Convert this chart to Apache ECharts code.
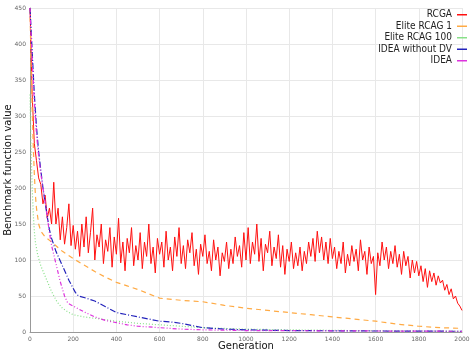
<!DOCTYPE html>
<html><head><meta charset="utf-8">
<script src="https://cdn.jsdelivr.net/npm/echarts@6/dist/echarts.min.js"></script>
<style>html,body{margin:0;padding:0;background:#fff}#c{width:472px;height:356px}</style>
</head><body><div id="c"></div>
<script>
// RCGA sampled every 10 generations
const rcgaStep = 10;
const rcgaValues = [
450,330,262,238,214,205,178,190,158,172,150,
208,150,172,128,160,122,145,178,120,148,
115,140,105,150,118,160,110,138,172,100,
135,118,150,95,128,112,145,90,132,108,
158,96,125,85,130,110,145,92,120,100,
138,88,125,105,150,95,118,82,130,108,
125,90,140,100,118,85,132,105,145,95,
120,88,128,110,138,92,115,80,122,105,
135,95,112,85,128,100,118,78,110,98,
125,88,115,95,132,105,120,90,138,100,
145,95,125,108,150,98,130,85,122,110,
140,92,118,102,135,90,120,80,115,98,
125,88,110,92,118,85,112,95,125,105,
130,98,140,110,132,100,125,95,130,102,
118,88,112,95,125,82,108,92,120,98,
115,85,128,100,112,80,118,95,105,52,
110,92,125,100,118,88,112,95,120,90,
108,80,112,92,105,75,100,82,98,78,
92,70,88,62,85,70,82,65,78,68,
72,58,66,52,60,46,50,40,36,30
];
const elite1Gens   = [0,5,10,15,20,25,30,40,50,70,100,150,200,250,300,350,400,450,500,550,600,700,800,900,1000,1100,1200,1300,1400,1500,1600,1700,1800,1900,2000];
const elite1Values = [450,370,310,260,220,190,172,150,140,132,125,112,102,93,84,76,69,64,59,53,47,44,42,37,33,30,27,24,21,18,15,11,8,6,5];
const elite100Gens   = [0,3,6,10,15,20,25,35,50,75,100,125,150,175,200,250,300,350,400,500,600,700,800,1000,1200,1500,2000];
const elite100Values = [330,280,240,200,165,140,125,108,92,74,56,42,33,28,24,21,19,17,15,12,10,8,6,4,3,2,1];
const ideaNoDvGens   = [0,10,20,30,40,50,60,70,80,90,100,120,150,180,210,225,260,300,350,400,450,500,550,600,650,700,750,800,850,900,1000,1200,1500,2000];
const ideaNoDvValues = [450,390,330,285,250,225,200,180,160,142,130,112,92,72,55,50,47,43,35,27,24,21,18,15,14,12,9,6,5,4,3,2,1.5,1];
const ideaGens   = [0,10,20,30,40,50,60,70,80,90,100,120,140,160,175,200,250,300,350,400,450,500,600,700,800,1000,1500,2000];
const ideaValues = [450,380,320,275,245,220,200,180,160,138,120,95,70,50,40,36,28,21,16,13,10,8,6,4,3,2,1.5,1];

const seriesNames = ['RCGA','Elite RCAG 1','Elite RCAG 100','IDEA without DV','IDEA'];
const xTicks = [0,200,400,600,800,1000,1200,1400,1600,1800,2000];

const pair = (g, v) => g.map((x, i) => [x, v[i]]);
const rcgaData = rcgaValues.map((v, i) => [i * rcgaStep, v]);

const chart = echarts.init(document.getElementById('c'), null, {renderer: 'canvas'});
const mk = (name, data, color, type, width) => ({
  name, type: 'line', data, showSymbol: false, symbol: 'none',
  lineStyle: {color, width, type}, itemStyle: {color}, animation: false
});
chart.setOption({
  animation: false,
  textStyle: {fontFamily: 'DejaVu Sans'},
  grid: {left: 30, right: 10, top: 8, bottom: 24, containLabel: false, outerBoundsMode: 'none'},
  legend: {
    orient: 'vertical', right: 5, top: 9, align: 'right', itemGap: 0,
    itemWidth: 10, itemHeight: 1.5, icon: 'rect', padding: 0,
    textStyle: {fontSize: 10, lineHeight: 11.5, color: '#222', fontFamily: 'DejaVu Sans Condensed', padding: [0, 0, 0, 0]},
    data: seriesNames
  },
  xAxis: {
    type: 'value', min: 0, max: 2000, interval: 200,
    name: 'Generation', nameLocation: 'middle', nameGap: 9, nameMoveOverlap: false,
    nameTextStyle: {fontSize: 10, color: '#111'},
    axisLine: {lineStyle: {color: '#999'}}, axisTick: {show: false},
    axisLabel: {fontSize: 6, color: '#666', margin: 4, formatter: v => xTicks.includes(v) ? String(v) : ''},
    splitLine: {lineStyle: {color: '#e8e8e8', width: 1}}
  },
  yAxis: {
    type: 'value', min: 0, max: 450, interval: 50,
    name: 'Benchmark function value', nameLocation: 'middle', nameGap: 17, nameRotate: 90, nameMoveOverlap: false,
    nameTextStyle: {fontSize: 10, color: '#111'},
    axisLine: {show: true, lineStyle: {color: '#999'}}, axisTick: {show: false},
    axisLabel: {fontSize: 6, color: '#666', margin: 4},
    splitLine: {lineStyle: {color: '#e8e8e8', width: 1}}
  },
  series: [
    mk('RCGA', rcgaData, '#ff1010', 'solid', 1),
    mk('Elite RCAG 1', pair(elite1Gens, elite1Values), '#ffaa44', [5, 4], 1.2),
    mk('Elite RCAG 100', pair(elite100Gens, elite100Values), '#88e088', [1, 2], 1.2),
    mk('IDEA without DV', pair(ideaNoDvGens, ideaNoDvValues), '#2222bb', [6, 2, 1, 2], 1.2),
    mk('IDEA', pair(ideaGens, ideaValues), '#dd33dd', [4, 2, 1, 2, 1, 2], 1.2)
  ]
});
</script></body></html>
